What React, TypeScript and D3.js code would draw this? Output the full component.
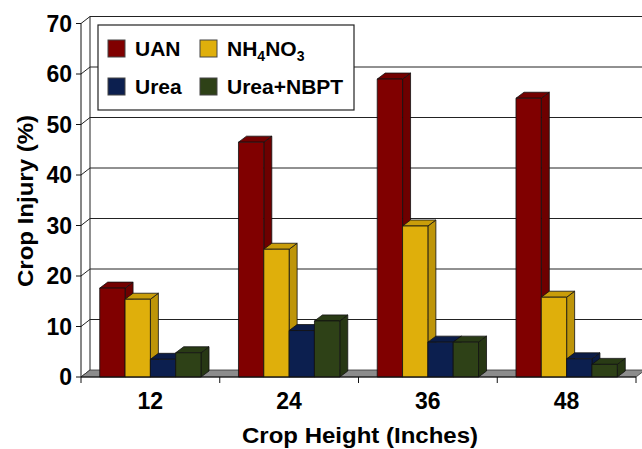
import React from "react";
import * as d3 from "d3";

const categories = ["12", "24", "36", "48"];
const seriesNames = ["UAN", "NH4NO3", "Urea", "Urea+NBPT"];
const uan = [17.6, 46.5, 59.0, 55.2];
const nh4no3 = [15.4, 25.3, 29.9, 15.8];
const urea = [3.5, 9.2, 6.9, 3.6];
const ureaNbpt = [4.8, 11.1, 6.9, 2.5];
const yTicks = [0, 10, 20, 30, 40, 50, 60, 70];
const colors = ["#800000", "#DFAF0B", "#0C1F4F", "#2E4117"];

const W = 642;
const H = 449;
const X0 = 81;
const X1 = 636;
const Y0 = 377;
const YTOP = 23.5;
const DX = 9; // wall depth offset
const DY = -7;
const BDX = 8; // bar depth offset
const BDY = -6;
const FONT = "'Liberation Sans', Arial, Helvetica, sans-serif";

export default function App() {
  const values = [uan, nh4no3, urea, ureaNbpt];
  const x = d3.scaleBand<string>().domain(categories).range([X0, X1]).padding(0);
  const cw = x.bandwidth();
  const barsWidth = cw * 0.73;
  const inner = d3
    .scaleBand<string>()
    .domain(seriesNames)
    .range([(cw - barsWidth) / 2, (cw + barsWidth) / 2])
    .padding(0);
  const y = d3.scaleLinear().domain([0, 70]).range([Y0, YTOP]);

  const shade = (c: string, k: number) => {
    const h = d3.hsl(c);
    h.l = h.l * k;
    return h.formatHex();
  };

  const bars: React.ReactNode[] = [];
  categories.forEach((cat, ci) => {
    seriesNames.forEach((s, si) => {
      const v = values[si][ci];
      const xl = (x(cat) as number) + (inner(s) as number);
      const xr = xl + inner.bandwidth();
      const yt = y(v);
      const yb = Y0;
      const col = colors[si];
      const front = `M${xl},${yb}L${xr},${yb}L${xr},${yt}L${xl},${yt}Z`;
      const side = `M${xr},${yb}L${xr + BDX},${yb + BDY}L${xr + BDX},${yt + BDY}L${xr},${yt}Z`;
      const top = `M${xl},${yt}L${xr},${yt}L${xr + BDX},${yt + BDY}L${xl + BDX},${yt + BDY}Z`;
      bars.push(
        <g key={`${ci}-${si}`} stroke="#111" strokeWidth={0.8} strokeLinejoin="round">
          <path d={side} fill={shade(col, 0.85)} />
          <path d={top} fill={shade(col, 0.9)} />
          <path d={front} fill={col} />
        </g>
      );
    });
  });

  return (
    <svg
      width={W}
      height={H}
      style={{ position: "absolute", left: 0, top: 0, background: "#fff" }}
      fontFamily={FONT}
      fontWeight="bold"
    >
      <rect x={0} y={0} width={W} height={H} fill="#fff" />
      {/* back wall gridlines */}
      {yTicks.map((t) => (
        <g key={`g${t}`} stroke="#222" strokeWidth={1}>
          <line x1={X0 + DX} x2={W + 5} y1={y(t) + DY} y2={y(t) + DY} stroke={t === 0 ? "none" : "#222"} />
          <line x1={X0} y1={y(t)} x2={X0 + DX} y2={y(t) + DY} />
        </g>
      ))}
      {/* back wall left edge */}
      <line x1={X0 + DX} x2={X0 + DX} y1={y(70) + DY} y2={y(0) + DY} stroke="#222" strokeWidth={1} />
      {/* floor */}
      <path
        d={`M${X0},${Y0}L${X1},${Y0}L${X1 + DX},${Y0 + DY}L${X0 + DX},${Y0 + DY}Z`}
        fill="#8c8c8c"
        stroke="#333"
        strokeWidth={0.8}
      />
      {/* legend */}
      <rect x={98} y={25} width={256} height={85} fill="#fff" stroke="#222" strokeWidth={1.2} />
      {seriesNames.map((s, i) => {
        const col = i % 2;
        const row = Math.floor(i / 2);
        const sx = col === 0 ? 108 : 200;
        const sy = row === 0 ? 40 : 78;
        return (
          <g key={`l${s}`}>
            <rect x={sx} y={sy} width={17} height={17} fill={colors[i]} stroke="#444" strokeWidth={1} />
            <text x={sx + 27} y={sy + 16} fontSize={21} fill="#000">
              {s === "NH4NO3" ? (
                <>
                  NH<tspan fontSize={14} dy={5}>4</tspan>
                  <tspan dy={-5}>NO</tspan>
                  <tspan fontSize={14} dy={5}>3</tspan>
                </>
              ) : (
                s
              )}
            </text>
          </g>
        );
      })}
      {/* bars */}
      {bars}
      {/* front y axis */}
      <line x1={X0} x2={X0} y1={y(70)} y2={Y0 + 6} stroke="#111" strokeWidth={1} />
      {yTicks.map((t) => (
        <g key={`yt${t}`}>
          <line x1={X0 - 5} x2={X0} y1={y(t)} y2={y(t)} stroke="#111" strokeWidth={1} />
          <text x={72} y={y(t)} dy="0.36em" textAnchor="end" fontSize={23} fill="#000">
            {t}
          </text>
        </g>
      ))}
      {/* front x axis */}
      <line x1={X0} x2={X1} y1={Y0} y2={Y0} stroke="#111" strokeWidth={1} />
      {categories.map((c) => (
        <g key={`xt${c}`}>
          <line
            x1={(x(c) as number) + cw}
            x2={(x(c) as number) + cw}
            y1={Y0}
            y2={Y0 + 6}
            stroke="#111"
            strokeWidth={1}
          />
          <text x={(x(c) as number) + cw / 2} y={409} textAnchor="middle" fontSize={23} fill="#000">
            {c}
          </text>
        </g>
      ))}
      <text x={360} y={443} textAnchor="middle" fontSize={22} textLength={236} lengthAdjust="spacingAndGlyphs" fill="#000">
        Crop Height (Inches)
      </text>
      <text
        transform="translate(33,201) rotate(-90)"
        textAnchor="middle"
        fontSize={22}
        textLength={172}
        lengthAdjust="spacingAndGlyphs"
        fill="#000"
      >
        Crop Injury (%)
      </text>
    </svg>
  );
}
